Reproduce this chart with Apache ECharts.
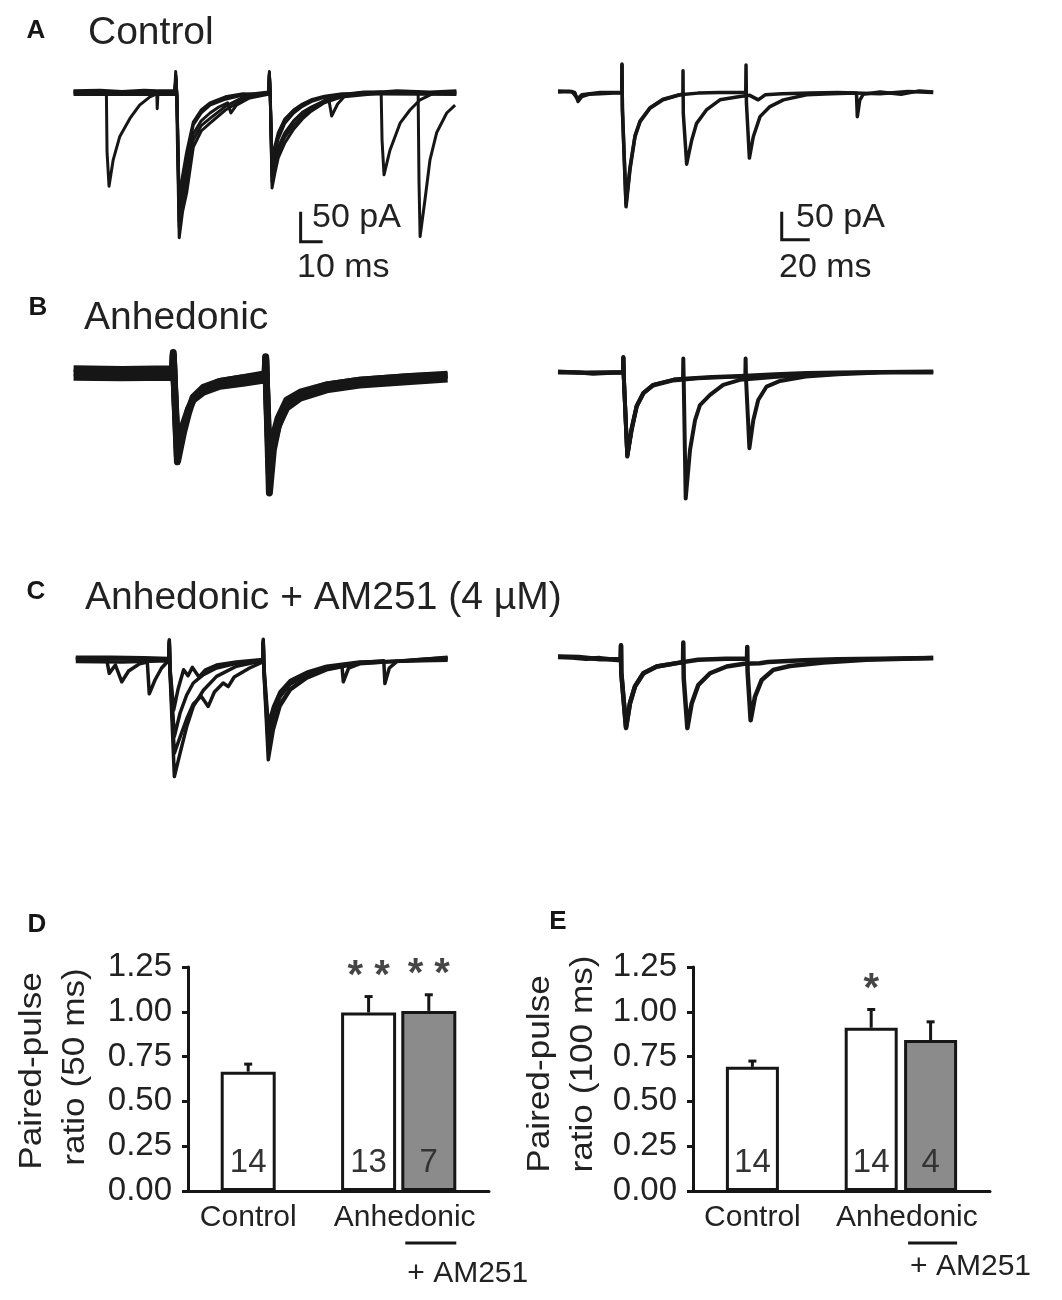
<!DOCTYPE html>
<html>
<head>
<meta charset="utf-8">
<script src="https://cdn.jsdelivr.net/npm/echarts@6/dist/echarts.min.js"></script>
<style>
  html, body { margin: 0; padding: 0; background: #fff; }
  #chart { width: 1062px; height: 1300px; }
</style>
</head>
<body>
<div id="chart"></div>
<script>
// 数据：电流记录（时间 ms，电流 pA），读自原图
// A 对照 50 ms 间隔
const ctrl50_1 = [[-2,2],[10,3],[20,1],[30,3],[35.8,2],[36,-28],[36.4,2],[44,2],[44.4,34],[44.8,-10],[46,-243],[47.5,-200],[49.4,-168],[52.4,-92],[56,-65],[60,-52],[67,-30],[75,-13],[81,-6],[86.6,-2],[87,34],[87.4,-10],[88.2,-160],[89.5,-135],[91,-110],[94,-85],[98,-62],[102,-45],[106,-32],[112,-18],[120,-8],[130,-2],[145,2],[160,0],[172,2]];
const ctrl50_2 = [[-2,-2],[15,-3],[30,-1],[44,-3],[44.5,20],[45,-10],[46,-215],[47.5,-170],[49.4,-130],[52.4,-70],[56,-48],[60,-35],[64,-25],[68,-18],[69.5,-35],[72,-22],[78,-10],[86.6,-4],[87,30],[87.4,-10],[88.2,-140],[89.5,-115],[91,-92],[94,-68],[98,-48],[102,-34],[106,-25],[110,-18],[114,-12],[115.3,-40],[118,-20],[121,-8],[135,-3],[150,-1],[172,-2]];
const ctrl50_3 = [[-2,0],[12.9,0],[13.2,-100],[14.1,-157],[16,-113],[19,-74],[23.6,-44],[28,-22],[32.7,-8],[37,-1],[44,0],[44.5,25],[45,-10],[46,-195],[47.5,-150],[49.4,-110],[52.4,-55],[56,-35],[60,-22],[67,-12],[75,-5],[86.6,0],[87,30],[87.4,-8],[88.2,-125],[89.5,-100],[91,-78],[94,-52],[98,-35],[102,-24],[106,-16],[112,-9],[120,-4],[130,0],[137.8,0],[138.2,-80],[139.1,-138],[141.8,-97],[146.4,-52],[150.9,-30],[155.5,-13],[161,-3],[172,0]];
const ctrl50_4 = [[-2,1],[20,-1],[44,1],[44.5,28],[45,-8],[46,-225],[47.5,-185],[49.4,-150],[52.4,-80],[56,-56],[60,-44],[67,-24],[75,-9],[86.6,-1],[87,32],[87.4,-8],[88.2,-150],[89.5,-125],[91,-100],[94,-75],[98,-55],[102,-40],[106,-28],[112,-14],[120,-5],[130,-1],[154.6,1],[155,-150],[155.5,-241],[157.7,-180],[160,-113],[163,-68],[167.6,-35],[171.4,-22]];
const ctrl50_5 = [[-2,-4],[44,-4],[44.5,22],[45,-8],[46,-180],[47.5,-140],[49.4,-100],[52.4,-50],[56,-30],[60,-18],[67,-8],[75,-3],[86.6,-4],[87,26],[87.4,-6],[88.2,-115],[89.5,-90],[91,-68],[94,-45],[98,-30],[102,-20],[106,-13],[112,-7],[120,-3],[172,-4]];
// A 对照 100 ms
const ctrl100_1 = [[0,0],[8,1],[12,-1],[14.3,-17],[17,-8],[22,-4],[30,-3],[40,-2],[45.5,-2],[45.7,50],[46,-32],[48.6,-205],[51.4,-139],[55,-80],[58.6,-53],[65.7,-29],[75,-14],[87,-5],[89.2,-4],[89.3,38],[89.5,-38],[91.9,-129],[95.5,-86],[99,-56],[106,-32],[115.7,-14],[130,-8],[137,-6],[143,-14],[148,-5],[160,-3],[180,-2],[200,-1],[230,-3],[250,1],[268,-1]];
const ctrl100_2 = [[0,2],[10,1],[14,-12],[17,-5],[30,-1],[45.5,-1],[45.7,48],[46,-30],[48.6,-200],[51.4,-135],[55,-78],[58.6,-52],[65.7,-28],[75,-13],[87,-5],[100,-2],[115,-1],[134.1,-1],[134.3,48],[134.6,-20],[136.7,-118],[139.5,-80],[144.3,-44],[151.4,-26],[161,-14],[177.6,-5],[195,-3],[213.2,-2],[213.8,-44],[215.5,-15],[218,-4],[230,0],[245,-4],[258,2],[268,0]];
// B 快感缺失 50 ms
const anh50_1 = [[-2,7],[20,6],[43,7],[43.3,34],[43.8,-20],[45.2,-148],[47.9,-100],[50.2,-67],[52.4,-42],[57,-26],[64.5,-14],[75,-8],[84,-2],[85.1,0],[85.3,27],[85.6,-10],[87,-200],[88.8,-128],[91,-89],[94.9,-51],[101,-34],[113,-20],[128,-12],[151,-6],[168,-2]];
const anh50_2 = [[-2,-7],[20,-8],[43,-7],[43.3,28],[43.8,-15],[45.2,-125],[47.9,-85],[50.2,-60],[52.4,-45],[57,-32],[64.5,-22],[75,-17],[84,-12],[85.1,-10],[85.3,22],[85.6,-15],[87,-170],[88.8,-120],[91,-88],[94.9,-58],[101,-42],[113,-28],[128,-20],[151,-14],[168,-10]];
const anh50_3 = [[-2,0],[43,0],[43.3,30],[43.8,-18],[45.2,-140],[47.9,-95],[50.2,-62],[52.4,-40],[57,-24],[64.5,-14],[75,-8],[84,-4],[85.1,-3],[85.3,25],[85.6,-12],[87,-150],[88.8,-105],[91,-75],[94.9,-45],[101,-32],[113,-20],[128,-12],[151,-6],[168,-4]];
// B 快感缺失 100 ms
const anh100_1 = [[0,0],[15,-1],[25,-3],[35,-2],[46.5,-1],[46.7,27],[47,-10],[49.5,-151],[52.6,-104],[56.2,-62],[61,-38],[68,-23],[82.4,-14],[89.5,-12],[110,-9],[130,-7],[155,-4],[177.6,-2],[200,-1],[230,0],[268,1]];
const anh100_2 = [[0,1],[20,-2],[46.5,0],[46.7,25],[47,-8],[49.5,-148],[52.6,-100],[56.2,-60],[61,-37],[68,-23],[82.4,-14],[89.3,-12],[89.5,24],[89.8,-15],[91.2,-226],[94.3,-139],[97.9,-86],[101.4,-59],[108.6,-41],[118,-23],[130,-14],[154,-9],[180,-5],[210,-2],[240,0],[268,0]];
const anh100_3 = [[0,-1],[20,-1],[46.5,-1],[46.7,26],[47,-9],[49.5,-150],[52.6,-102],[56.2,-61],[61,-38],[68,-24],[82.4,-15],[100,-11],[120,-9],[133.8,-8],[134,24],[134.3,-12],[136.7,-136],[139.5,-86],[143,-50],[149,-26],[158.6,-16],[177,-8],[200,-4],[230,-1],[268,-1]];
// C 快感缺失 + AM251 50 ms
const am50_1 = [[-1,0],[10,1],[13,0],[14.2,-24],[17,-10],[19.9,-38],[23,-20],[28,-8],[31.5,-5],[32.4,-58],[35,-35],[38,-15],[41.3,-2],[41.5,32],[41.8,-20],[43.8,-196],[46.4,-157],[49.4,-113],[52.4,-79],[57,-52],[63,-29],[72,-12],[82.7,-4],[84,-2],[84.2,33],[84.5,-20],[86.5,-168],[88.8,-118],[91.8,-79],[96.4,-52],[104,-32],[113,-18],[128,-7],[143,-4],[155,-1],[168,2]];
const am50_2 = [[-1,3],[15,3],[30,2],[41.3,1],[41.5,30],[41.8,-18],[43.8,-157],[46.4,-130],[49.4,-100],[52.4,-75],[56,-62],[59.2,-79],[62,-55],[66,-40],[68.3,-46],[71,-30],[78,-15],[84,-5],[84.2,30],[84.5,-18],[86.5,-145],[88.8,-108],[91.8,-75],[96.4,-50],[104,-30],[113,-17],[120,-12],[120.6,-38],[123,-15],[128,-8],[143,-4],[168,0]];
const am50_3 = [[-1,-4],[20,-5],[41.3,-3],[41.5,28],[41.8,-15],[43.8,-129],[46.4,-90],[49.4,-60],[52.4,-40],[57,-26],[63,-15],[72,-7],[84,-3],[84.2,28],[84.5,-15],[86.5,-125],[88.8,-92],[91.8,-63],[96.4,-42],[104,-26],[113,-14],[128,-6],[139,-3],[139.5,-41],[141.5,-15],[145,-4],[168,3]];
const am50_4 = [[-1,1],[25,0],[41.3,0],[41.5,25],[41.8,-15],[43.5,-85],[45.5,-50],[48,-18],[50,-28],[52,-14],[55,-30],[58,-18],[63,-10],[72,-5],[84,-1],[84.2,26],[84.5,-12],[86.5,-110],[88.8,-80],[91.8,-55],[96.4,-36],[104,-22],[113,-12],[128,-5],[168,-2]];
// C 快感缺失 + AM251 100 ms
const am100_1 = [[0,0],[10,-1],[20,-3],[30,-2],[40,-5],[44.8,-6],[45,21],[45.2,-29],[48.6,-127],[51.4,-83],[55,-53],[61,-29],[70.5,-17],[87,-10],[89.3,-9],[89.5,26],[89.8,-38],[92.4,-127],[95.5,-83],[100.2,-50],[108.6,-29],[120.5,-17],[133,-12],[144,-11],[150,-9],[175,-6],[200,-4],[230,-3],[268,-2]];
const am100_2 = [[0,1],[15,0],[30,-4],[44.8,-4],[45,20],[45.2,-27],[48.6,-125],[51.4,-82],[55,-52],[61,-29],[70.5,-17],[87,-10],[100,-5],[120,-3],[135,-3],[135.2,18],[135.4,-25],[137.6,-113],[140.7,-71],[145.5,-41],[153.8,-23],[165.7,-16],[189.5,-10],[220,-5],[268,-2]];

// 标尺：起点（ms, pA）与长度
const scale50 = { t: 101.2, a: -199.5, pA: 50, ms: 10 };
const scale100 = { t: 159.8, a: -213.8, pA: 50, ms: 20 };

// 柱状图数据：双脉冲比值
const barX = [1, 3, 4];
const ppr50Mean = [0.666, 0.996, 1.005];
const ppr50Sem = [0.042, 0.089, 0.090];
const ppr50N = ['14', '13', '7'];
const ppr50Star = ['', '* *', '* *'];
const ppr100Mean = [0.693, 0.911, 0.842];
const ppr100Sem = [0.032, 0.102, 0.102];
const ppr100N = ['14', '14', '4'];
const ppr100Star = ['', '*', ''];
const catPos = [1, 3.6];
const catNames = ['Control', 'Anhedonic'];

const FONT = '"Liberation Sans", Arial, Helvetica, sans-serif';
const INK = '#161616';

/**
 * 记录面板网格：按像素/单位比例把 ms、pA 坐标映射到画布位置。
 */
function traceGrid(x0, y0, pxMs, pxPA, tMin, tMax, aMin, aMax) {
  return {
    grid: { left: x0 + tMin * pxMs, top: y0 - aMax * pxPA, width: (tMax - tMin) * pxMs, height: (aMax - aMin) * pxPA },
    x: { min: tMin, max: tMax },
    y: { min: aMin, max: aMax }
  };
}

const panels = [
  traceGrid(78, 92, 2.2, 0.6, -2, 172, -260, 60),
  traceGrid(558, 92, 1.4, 0.56, -2, 270, -280, 60),
  traceGrid(78, 373, 2.2, 0.6, -2, 172, -260, 60),
  traceGrid(558, 372, 1.4, 0.56, -2, 270, -280, 60),
  traceGrid(78, 659, 2.2, 0.6, -2, 172, -260, 60),
  traceGrid(558, 657, 1.4, 0.56, -2, 270, -280, 60)
];
const traceSets = [
  { data: [ctrl50_1, ctrl50_2, ctrl50_3, ctrl50_4, ctrl50_5], width: 3 },
  { data: [ctrl100_1, ctrl100_2], width: 3.5 },
  { data: [anh50_1, anh50_2, anh50_3], width: 7 },
  { data: [anh100_1, anh100_2, anh100_3], width: 4 },
  { data: [am50_1, am50_2, am50_3, am50_4], width: 3.5 },
  { data: [am100_1, am100_2], width: 4.5 }
];

const grids = panels.map(p => p.grid);
const xAxes = panels.map((p, i) => ({ type: 'value', gridIndex: i, min: p.x.min, max: p.x.max, show: false }));
const yAxes = panels.map((p, i) => ({ type: 'value', gridIndex: i, min: p.y.min, max: p.y.max, show: false }));
const series = [];

traceSets.forEach((set, gi) => {
  set.data.forEach(d => {
    series.push({
      type: 'line', xAxisIndex: gi, yAxisIndex: gi, data: d, symbol: 'none', silent: true,
      lineStyle: { color: INK, width: set.width, join: 'round' }, clip: false, animation: false
    });
  });
});

// 标尺线
[[0, scale50], [1, scale100]].forEach(([gi, s]) => {
  series.push({
    type: 'line', xAxisIndex: gi, yAxisIndex: gi, symbol: 'none', animation: false, clip: false,
    data: [[s.t, s.a], [s.t, s.a - s.pA], [s.t + s.ms, s.a - s.pA]],
    lineStyle: { color: INK, width: 3, join: 'miter' }
  });
});

// 柱状图网格 D、E
const barGrids = [
  { left: 188, top: 967, width: 301, height: 224 },
  { left: 693, top: 967, width: 297, height: 224 }
];
barGrids.forEach(g => grids.push(g));

const barSets = [
  { mean: ppr50Mean, sem: ppr50Sem, n: ppr50N, star: ppr50Star, barWidth: 55 },
  { mean: ppr100Mean, sem: ppr100Sem, n: ppr100N, star: ppr100Star, barWidth: 53 }
];

barSets.forEach((b, k) => {
  const gi = 6 + k;
  xAxes.push({
    type: 'value', gridIndex: gi, min: 0, max: 5, interval: 0.5,
    axisLine: { show: true, lineStyle: { color: INK, width: 3 } },
    axisTick: { show: false }, splitLine: { show: false },
    axisLabel: {
      color: '#222', fontFamily: FONT, fontSize: 30, margin: 12, customValues: catPos,
      formatter: v => { const i = catPos.findIndex(c => Math.abs(c - v) < 1e-6); return i >= 0 ? catNames[i] : ''; }
    }
  });
  yAxes.push({
    type: 'value', gridIndex: gi, min: 0, max: 1.25, interval: 0.25,
    axisLine: { show: true, lineStyle: { color: INK, width: 3 } },
    axisTick: { show: true, length: 6, lineStyle: { color: INK, width: 3 } },
    splitLine: { show: false },
    axisLabel: { color: '#222', fontFamily: FONT, fontSize: 33, margin: 16, formatter: v => v.toFixed(2) }
  });
  series.push({
    type: 'bar', xAxisIndex: gi, yAxisIndex: gi, barWidth: b.barWidth, animation: false,
    data: barX.map((x, i) => ({
      value: [x, b.mean[i]],
      itemStyle: { color: i === 2 ? '#8b8b8b' : '#fff', borderColor: INK, borderWidth: 3 }
    })),
    label: {
      show: true, position: 'insideBottom', distance: 12, color: '#333', fontFamily: FONT, fontSize: 33,
      formatter: p => b.n[p.dataIndex]
    }
  });
  // 误差线
  series.push({
    type: 'custom', xAxisIndex: gi, yAxisIndex: gi, animation: false, clip: false,
    data: barX.map((x, i) => [x, b.mean[i], b.sem[i]]),
    renderItem: (params, api) => {
      const p0 = api.coord([api.value(0), api.value(1)]);
      const p1 = api.coord([api.value(0), api.value(1) + api.value(2)]);
      const st = { stroke: INK, lineWidth: 3 };
      return {
        type: 'group', children: [
          { type: 'line', shape: { x1: p0[0], y1: p0[1], x2: p1[0], y2: p1[1] }, style: st },
          { type: 'line', shape: { x1: p1[0] - 4, y1: p1[1], x2: p1[0] + 4, y2: p1[1] }, style: st }
        ]
      };
    }
  });
  // 显著性星号
  series.push({
    type: 'scatter', xAxisIndex: gi, yAxisIndex: gi, symbolSize: 0, animation: false, silent: true,
    data: barX.map((x, i) => [x, b.mean[i] + b.sem[i]]),
    label: {
      show: true, position: 'top', distance: 0, color: INK, fontFamily: FONT, fontSize: 40, fontWeight: 'bold',
      formatter: p => b.star[p.dataIndex]
    }
  });
  // “+ AM251”下划线与文字
  series.push({
    type: 'custom', xAxisIndex: gi, yAxisIndex: gi, animation: false, clip: false, silent: true,
    data: [[4, 0]],
    renderItem: (params, api) => {
      const p = api.coord([api.value(0), api.value(1)]);
      const half = b.barWidth / 2;
      return {
        type: 'group', children: [
          { type: 'line', shape: { x1: p[0] - half + 4, y1: p[1] + 52, x2: p[0] + half, y2: p[1] + 52 }, style: { stroke: INK, lineWidth: 3 } },
          { type: 'text', x: p[0] - half + 6, y: p[1] + 83 - k * 7, style: { text: '+ AM251', fill: '#222', font: '30px ' + FONT, textAlign: 'left', textVerticalAlign: 'middle' } }
        ]
      };
    }
  });
});

// 文本标注
const txt = (text, x, y, size, opt = {}) => ({
  type: 'text', x, y, rotation: opt.rotation || 0, scaleX: opt.scaleX || 1,
  style: {
    text, fill: opt.fill || INK, font: (opt.bold ? 'bold ' : '') + size + 'px ' + FONT,
    textAlign: opt.align || 'left', textVerticalAlign: 'middle'
  }
});
const graphic = [
  txt('A', 36, 31, 26, { bold: true, align: 'center' }),
  txt('Control', 88, 33, 39, { fill: '#222' }),
  txt('B', 38, 308, 26, { bold: true, align: 'center' }),
  txt('Anhedonic', 84, 318, 39, { fill: '#222' }),
  txt('C', 36, 592, 26, { bold: true, align: 'center' }),
  txt('Anhedonic + AM251 (4 µM)', 85, 598, 39, { fill: '#222' }),
  txt('D', 37, 925, 26, { bold: true, align: 'center' }),
  txt('E', 558, 922, 26, { bold: true, align: 'center' }),
  txt('50 pA', 312, 218, 34, { fill: '#222' }),
  txt('10 ms', 297, 268, 34, { fill: '#222' }),
  txt('50 pA', 796, 218, 34, { fill: '#222' }),
  txt('20 ms', 779, 268, 34, { fill: '#222' }),
  txt('Paired-pulse', 32, 1071, 32, { rotation: Math.PI / 2, scaleX: 1.1, align: 'center', fill: '#222' }),
  txt('ratio (50 ms)', 75, 1067, 32, { rotation: Math.PI / 2, scaleX: 1.1, align: 'center', fill: '#222' }),
  txt('Paired-pulse', 540, 1074, 32, { rotation: Math.PI / 2, scaleX: 1.1, align: 'center', fill: '#222' }),
  txt('ratio (100 ms)', 583, 1064, 32, { rotation: Math.PI / 2, scaleX: 1.1, align: 'center', fill: '#222' })
];

const chart = echarts.init(document.getElementById('chart'), null, { renderer: 'canvas' });
chart.setOption({
  backgroundColor: '#fff',
  animation: false,
  grid: grids,
  xAxis: xAxes,
  yAxis: yAxes,
  series: series,
  graphic: graphic
});
</script>
</body>
</html>
